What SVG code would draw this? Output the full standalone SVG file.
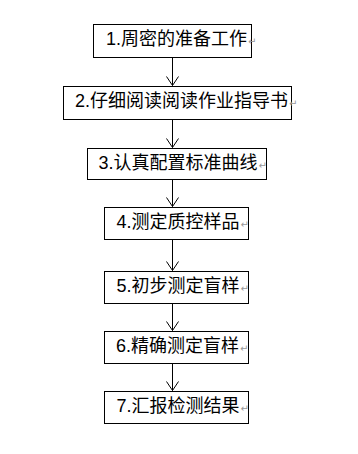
<svg xmlns="http://www.w3.org/2000/svg" width="358" height="454" viewBox="0 0 358 454">
<defs>
<style>
.box{fill:#fff;stroke:#000;stroke-width:1}
.t{font-family:"Liberation Sans","Noto Sans CJK SC",sans-serif;font-size:18px;fill:#000}
.pm{font-family:"DejaVu Sans",sans-serif;font-size:10px;fill:#999}
.c{stroke:#000;stroke-width:1;fill:none}
</style>
<marker id="arr" viewBox="-10 -7 12 14" refX="0" refY="0" markerWidth="12" markerHeight="14" markerUnits="userSpaceOnUse" orient="auto">
<path d="M-9,-6 L0,0 L-9,6" fill="none" stroke="#000" stroke-width="1"/>
</marker>
</defs>
<rect width="358" height="454" fill="#fff"/>
<g id="connectors">
<line class="c" x1="172.5" y1="57" x2="172.5" y2="85.5" marker-end="url(#arr)"/>
<line class="c" x1="172.5" y1="119" x2="172.5" y2="147.5" marker-end="url(#arr)"/>
<line class="c" x1="172.5" y1="179" x2="172.5" y2="206.5" marker-end="url(#arr)"/>
<line class="c" x1="172.5" y1="239" x2="172.5" y2="270.5" marker-end="url(#arr)"/>
<line class="c" x1="172.5" y1="303" x2="172.5" y2="330.5" marker-end="url(#arr)"/>
<line class="c" x1="172.5" y1="363" x2="172.5" y2="390.5" marker-end="url(#arr)"/>
</g>
<g id="n1">
<rect class="box" x="93.5" y="24.5" width="158" height="33"/>
<text class="t" x="106" y="45">1.周密的准备工作<tspan class="pm" dx="1">↵</tspan></text>
</g>
<g id="n2">
<rect class="box" x="63.5" y="86.5" width="228" height="33"/>
<text class="t" x="75" y="107">2.仔细阅读阅读作业指导书<tspan class="pm" dx="1">↵</tspan></text>
</g>
<g id="n3">
<rect class="box" x="87.5" y="148.5" width="179" height="31"/>
<text class="t" x="98.5" y="168.5">3.认真配置标准曲线<tspan class="pm" dx="1">↵</tspan></text>
</g>
<g id="n4">
<rect class="box" x="104.5" y="207.5" width="144" height="32"/>
<text class="t" x="116.5" y="228">4.测定质控样品<tspan class="pm" dx="1">↵</tspan></text>
</g>
<g id="n5">
<rect class="box" x="104.5" y="271.5" width="144" height="32"/>
<text class="t" x="116.5" y="292">5.初步测定盲样<tspan class="pm" dx="1">↵</tspan></text>
</g>
<g id="n6">
<rect class="box" x="104.5" y="331.5" width="144" height="32"/>
<text class="t" x="116" y="352">6.精确测定盲样<tspan class="pm" dx="1">↵</tspan></text>
</g>
<g id="n7">
<rect class="box" x="104.5" y="391.5" width="144" height="32"/>
<text class="t" x="116.5" y="412">7.汇报检测结果<tspan class="pm" dx="1">↵</tspan></text>
</g>
</svg>
